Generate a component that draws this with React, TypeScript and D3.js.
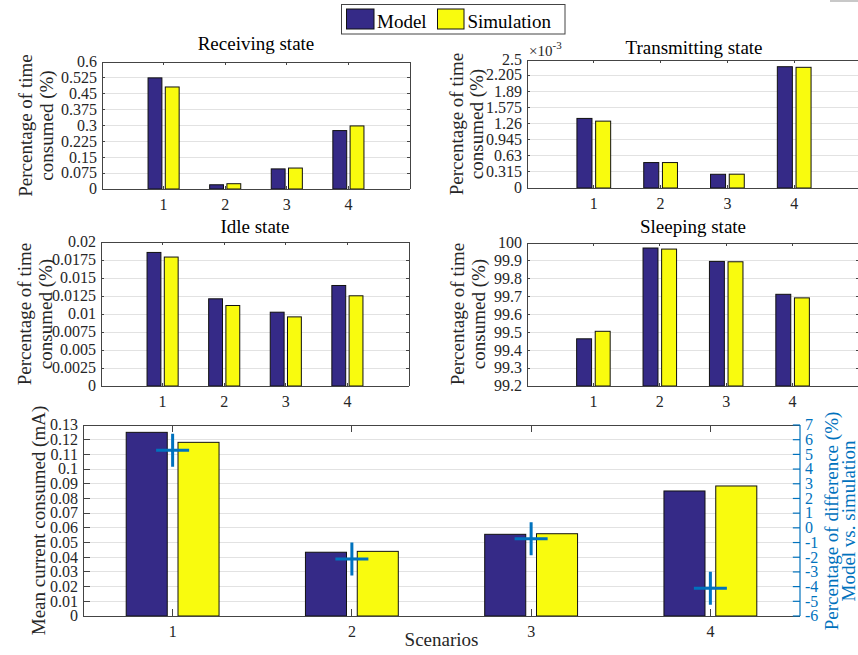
import type { ReactNode } from "react";
import { scaleLinear } from "d3";

// scenarios on the x axis
const scenarios = [1, 2, 3, 4];

// percentage of time in each state (model vs simulation)
const receivingModel = [0.525, 0.02, 0.095, 0.276];
const receivingSim = [0.482, 0.025, 0.099, 0.298];
// transmitting values are in units of 1e-3
const transmittingModel = [1.359, 0.497, 0.268, 2.369];
const transmittingSim = [1.306, 0.497, 0.27, 2.357];
const idleModel = [0.01855, 0.01211, 0.01025, 0.01396];
const idleSim = [0.01791, 0.01118, 0.0096, 0.01253];
const sleepingModel = [99.464, 99.972, 99.897, 99.713];
const sleepingSim = [99.506, 99.966, 99.895, 99.693];

// mean current (mA) and % difference
const currentModel = [0.125, 0.0434, 0.0556, 0.0851];
const currentSim = [0.1182, 0.044, 0.056, 0.0885];
const differencePct = [5.28, -2.12, -0.74, -4.11];

// tick labels
const receivingTicks = [0, 0.075, 0.15, 0.225, 0.3, 0.375, 0.45, 0.525, 0.6];
const transmittingTicks = [0, 0.315, 0.63, 0.945, 1.26, 1.575, 1.89, 2.205, 2.5];
const idleTicks = [0, 0.0025, 0.005, 0.0075, 0.01, 0.0125, 0.015, 0.0175, 0.02];
const sleepingTicks = [99.2, 99.3, 99.4, 99.5, 99.6, 99.7, 99.8, 99.9, 100];
const currentTicks = [0, 0.01, 0.02, 0.03, 0.04, 0.05, 0.06, 0.07, 0.08, 0.09, 0.1, 0.11, 0.12, 0.13];
const differenceTicks = [-6, -5, -4, -3, -2, -1, 0, 1, 2, 3, 4, 5, 6, 7];

const FONT = "'Liberation Serif', 'DejaVu Serif', serif";
const AX = "#262626";
const FRAME = "#444";
const GRID = "#e2e2e2";
const MODEL = "#352A87";
const SIM = "#F9FB0E";
const BLUE = "#0072BD";

const fmt = (v: number) => String(+v.toFixed(6));
const ts = { fontFamily: FONT };

type PanelProps = {
  left: number;
  top: number;
  right: number;
  bottom: number;
  xDomain: [number, number];
  yDomain: [number, number];
  yTicks: number[];
  model: number[];
  sim: number[];
  barW: number;
  gap: number;
  rightTicks?: boolean;
  children?: ReactNode;
};

function BarPanel({ left, top, right, bottom, xDomain, yDomain, yTicks, model, sim, barW, gap, rightTicks = true, children }: PanelProps) {
  const x = scaleLinear().domain(xDomain).range([left, right]);
  const y = scaleLinear().domain(yDomain).range([bottom, top]);
  const tl = 0.01 * Math.max(right - left, bottom - top);
  return (
    <g>
      {/* horizontal grid */}
      {yTicks.map((t, i) => (
        <line key={i} x1={left} x2={right} y1={y(t)} y2={y(t)} stroke={GRID} strokeWidth={1} shapeRendering="crispEdges" />
      ))}
      {/* bars */}
      {scenarios.map((s, i) => (
        <g key={i}>
          <rect
            x={x(s - gap / 2 - barW)}
            width={x(s - gap / 2) - x(s - gap / 2 - barW)}
            y={y(model[i])}
            height={bottom - y(model[i])}
            fill={MODEL}
            stroke="#111"
            strokeWidth={1}
          />
          <rect
            x={x(s + gap / 2)}
            width={x(s + gap / 2 + barW) - x(s + gap / 2)}
            y={y(sim[i])}
            height={bottom - y(sim[i])}
            fill={SIM}
            stroke="#111"
            strokeWidth={1}
          />
        </g>
      ))}
      {/* frame */}
      <line x1={left} x2={right} y1={top} y2={top} stroke={FRAME} shapeRendering="crispEdges" />
      <line x1={left} x2={right} y1={bottom} y2={bottom} stroke={FRAME} shapeRendering="crispEdges" />
      <line x1={left} x2={left} y1={top} y2={bottom} stroke={FRAME} shapeRendering="crispEdges" />
      {rightTicks && <line x1={right} x2={right} y1={top} y2={bottom} stroke={FRAME} shapeRendering="crispEdges" />}
      {/* x ticks */}
      {scenarios.map((s, i) => (
        <g key={i}>
          <line x1={x(s)} x2={x(s)} y1={bottom} y2={bottom - tl} stroke={FRAME} shapeRendering="crispEdges" />
          <line x1={x(s)} x2={x(s)} y1={top} y2={top + tl} stroke={FRAME} shapeRendering="crispEdges" />
          <text x={x(s)} y={bottom + 21} textAnchor="middle" fontSize={16} fill={AX} style={ts}>
            {s}
          </text>
        </g>
      ))}
      {/* y ticks */}
      {yTicks.map((t, i) => (
        <g key={i}>
          <line x1={left} x2={left + tl} y1={y(t)} y2={y(t)} stroke={FRAME} shapeRendering="crispEdges" />
          {rightTicks && <line x1={right} x2={right - tl} y1={y(t)} y2={y(t)} stroke={FRAME} shapeRendering="crispEdges" />}
          <text x={left - 5} y={y(t)} dy="0.33em" textAnchor="end" fontSize={16} fill={AX} style={ts}>
            {fmt(t)}
          </text>
        </g>
      ))}
      {children}
    </g>
  );
}

function YLabel({ lines, xs, cy, color = AX }: { lines: string[]; xs: number[]; cy: number; color?: string }) {
  return (
    <g>
      {lines.map((l, i) => (
        <text key={i} transform={`translate(${xs[i]},${cy}) rotate(-90)`} textAnchor="middle" fontSize={19} fill={color} style={ts}>
          {l}
        </text>
      ))}
    </g>
  );
}

export default function App() {
  // bottom panel scales
  const bL = 83, bT = 425, bR = 800, bB = 616;
  const bx = scaleLinear().domain([0.5, 4.5]).range([bL, bR]);
  const yRight = scaleLinear().domain([-6, 7]).range([bB, bT]);
  const tlB = 0.01 * (bR - bL);

  return (
    <svg width={858} height={655} style={{ position: "absolute", left: 0, top: 0, background: "#fff", fontFamily: FONT }}>
      <rect width={858} height={655} fill="#fff" />

      {/* Receiving */}
      <BarPanel left={102} top={62} right={410} bottom={189} xDomain={[0, 5]} yDomain={[0, 0.6]} yTicks={receivingTicks} model={receivingModel} sim={receivingSim} barW={0.225} gap={0.055} />
      <text x={256} y={49.5} textAnchor="middle" fontSize={19} fill="#000" style={ts}>Receiving state</text>
      <YLabel lines={["Percentage of time", "consumed (%)"]} xs={[32, 53]} cy={125.5} />

      {/* Transmitting */}
      <BarPanel left={527} top={60} right={861} bottom={188} xDomain={[0, 5]} yDomain={[0, 2.5]} yTicks={transmittingTicks} model={transmittingModel} sim={transmittingSim} barW={0.225} gap={0.055} />
      <text x={694} y={53.5} textAnchor="middle" fontSize={19} fill="#000" style={ts}>Transmitting state</text>
      <text x={529} y={56} fontSize={15} fill={AX} style={ts}>
        ×10<tspan dy={-7} fontSize={11}>-3</tspan>
      </text>
      <YLabel lines={["Percentage of time", "consumed (%)"]} xs={[463, 483]} cy={124} />

      {/* Idle */}
      <BarPanel left={101} top={242} right={409} bottom={386} xDomain={[0, 5]} yDomain={[0, 0.02]} yTicks={idleTicks} model={idleModel} sim={idleSim} barW={0.225} gap={0.055} />
      <text x={255} y={232.5} textAnchor="middle" fontSize={19} fill="#000" style={ts}>Idle state</text>
      <YLabel lines={["Percentage of time", "consumed (%)"]} xs={[31, 52]} cy={314} />

      {/* Sleeping */}
      <BarPanel left={527} top={243} right={859} bottom={386} xDomain={[0, 5]} yDomain={[99.2, 100]} yTicks={sleepingTicks} model={sleepingModel} sim={sleepingSim} barW={0.225} gap={0.055} />
      <text x={693} y={232.5} textAnchor="middle" fontSize={19} fill="#000" style={ts}>Sleeping state</text>
      <YLabel lines={["Percentage of time", "consumed (%)"]} xs={[464, 485]} cy={314} />

      {/* Mean current with percentage difference */}
      <BarPanel left={bL} top={bT} right={bR} bottom={bB} xDomain={[0.5, 4.5]} yDomain={[0, 0.13]} yTicks={currentTicks} model={currentModel} sim={currentSim} barW={0.229} gap={0.06} rightTicks={false}>
        <line x1={bR} x2={bR} y1={bT} y2={bB} stroke={BLUE} strokeWidth={1.2} />
        {differenceTicks.map((t, i) => (
          <g key={i}>
            <line x1={bR} x2={bR - tlB} y1={yRight(t)} y2={yRight(t)} stroke={BLUE} strokeWidth={1.2} />
            <text x={bR + 5} y={yRight(t)} dy="0.33em" fontSize={16} fill={BLUE} style={ts}>
              {t}
            </text>
          </g>
        ))}
        {/* difference markers */}
        {scenarios.map((s, i) => (
          <path
            key={i}
            d={`M${bx(s) - 16.5},${yRight(differencePct[i])}h33M${bx(s)},${yRight(differencePct[i]) - 16.5}v33`}
            stroke={BLUE}
            strokeWidth={3}
            fill="none"
          />
        ))}
      </BarPanel>
      <text x={441.5} y={646} textAnchor="middle" fontSize={19} fill={AX} style={ts}>Scenarios</text>
      <YLabel lines={["Mean current consumed (mA)"]} xs={[45]} cy={520.5} />
      <YLabel lines={["Percentage of difference (%)", "Model vs. simulation"]} xs={[838, 855]} cy={521} color={BLUE} />

      {/* legend */}
      <rect x={341.5} y={4.5} width={223.5} height={29.5} fill="#fff" stroke={FRAME} strokeWidth={1} />
      <rect x={346.5} y={9} width={27.5} height={20} fill={MODEL} stroke="#111" />
      <text x={377} y={27.5} fontSize={19} fill="#000" style={ts}>Model</text>
      <rect x={437.5} y={9} width={26.5} height={20} fill={SIM} stroke="#111" />
      <text x={467.5} y={27.5} fontSize={19} fill="#000" style={ts}>Simulation</text>

      {/* stray mark at top right in the source figure */}
      <line x1={830} x2={858} y1={1} y2={1} stroke="#c8c8c8" strokeWidth={2} />
    </svg>
  );
}
